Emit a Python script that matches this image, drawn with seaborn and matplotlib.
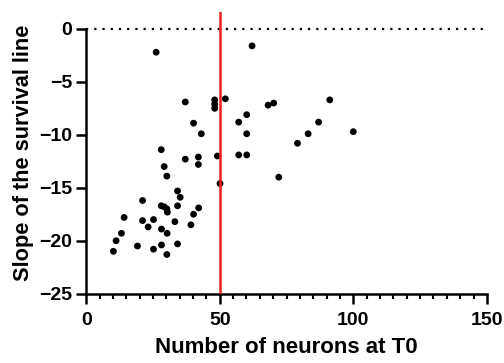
import numpy as np
import pandas as pd
import matplotlib
matplotlib.use("Agg")
import matplotlib.pyplot as plt
import seaborn as sns
from matplotlib.ticker import MultipleLocator

# Werte
neurons_t0 = [26.2, 62.1, 37.1, 48.1, 48.1, 48.1, 52.1, 68.1, 70.2, 91.2,
              40.2, 57.1, 60.1, 87.0, 43.1, 60.1, 83.1, 100.0, 79.1, 28.1,
              37.1, 42.0, 42.0, 49.1, 57.1, 60.1, 29.2, 30.2, 72.1, 50.1,
              34.2, 35.2, 21.1, 28.1, 29.2, 30.2, 30.4, 34.2, 42.1, 40.2,
              14.2, 21.1, 25.2, 33.2, 23.2, 39.2, 28.2, 13.2, 30.3, 11.2,
              34.2, 19.2, 28.2, 25.2, 10.2, 30.2]
slope = [-2.2, -1.6, -6.9, -6.7, -7.1, -7.5, -6.6, -7.2, -7.0, -6.7,
         -8.9, -8.8, -8.1, -8.8, -9.9, -9.9, -9.9, -9.7, -10.8, -11.4,
         -12.3, -12.1, -12.8, -12.0, -11.9, -11.9, -13.0, -13.9, -14.0, -14.6,
         -15.3, -15.9, -16.2, -16.7, -16.8, -17.0, -17.3, -16.7, -16.9, -17.5,
         -17.8, -18.1, -18.0, -18.2, -18.7, -18.5, -18.9, -19.3, -19.3, -20.0,
         -20.3, -20.5, -20.4, -20.8, -21.0, -21.3]
threshold = 50

df = pd.DataFrame({'neurons': neurons_t0, 'slope': slope})

sns.set_style("ticks")
plt.rcParams['font.family'] = ['Liberation Sans', 'DejaVu Sans']
plt.rcParams['font.weight'] = 'bold'
for key in ['text.color', 'axes.labelcolor', 'xtick.color', 'ytick.color', 'axes.edgecolor']:
    plt.rcParams[key] = 'black'

fig = plt.figure(figsize=(5.04, 3.63), dpi=100)
ax = fig.add_axes([0.171, 0.191, 0.795, 0.776])

sns.scatterplot(data=df, x='neurons', y='slope', color='black', s=24,
                edgecolor='none', ax=ax, zorder=3)

ax.axhline(0, color='black', lw=1.6, linestyle=(0, (1, 2.7)), zorder=2)
ax.axvline(threshold, color='#e8231f', lw=1.8, zorder=4)

ax.set_xlim(0, 150)
ax.set_ylim(-25, 1.6)
ax.spines['left'].set_bounds(-25, 0)
ax.spines['top'].set_visible(False)
ax.spines['right'].set_visible(False)
for s in ['left', 'bottom']:
    ax.spines[s].set_linewidth(1.8)

ax.set_xticks([0, 50, 100, 150])
ax.xaxis.set_minor_locator(MultipleLocator(5))
ax.set_yticks([0, -5, -10, -15, -20, -25])
ax.tick_params(axis='both', which='major', width=1.8, length=7, labelsize=14, pad=3)
ax.tick_params(axis='x', which='major', pad=6)
ax.tick_params(axis='x', which='minor', width=1.5, length=3.6)
for lab in ax.get_xticklabels() + ax.get_yticklabels():
    lab.set_fontweight('bold')

ax.set_xlabel('Number of neurons at T0', fontsize=16, fontweight='bold', labelpad=6)
ax.set_ylabel('Slope of the survival line', fontsize=15.7, fontweight='bold', labelpad=4)

fig.savefig('out.png', dpi=100)
